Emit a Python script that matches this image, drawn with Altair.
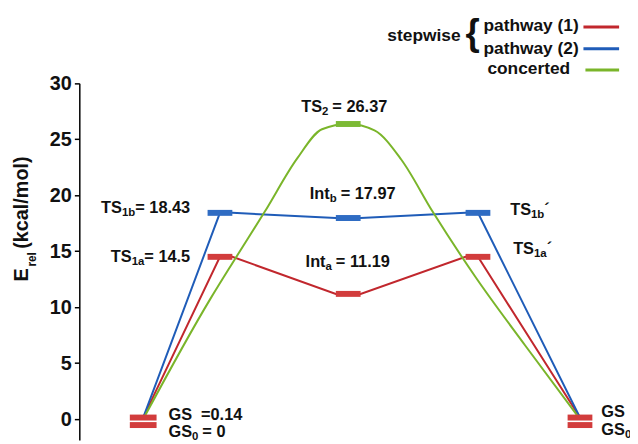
import altair as alt
import pandas as pd

# ---------------- values ----------------
stage_x = [64.5, 142.0, 271.5, 402.5, 505.5]      # reaction coordinate: GS, TS1, Int, TS1´, GS´
path1_e = [0.14, 14.5, 11.19, 14.5, 0.14]         # stepwise pathway (1)
path2_e = [0.14, 18.43, 17.97, 18.43, 0.14]       # stepwise pathway (2)
e_gs = 0.14
e_gs0 = 0.0
e_ts2 = 26.37
conc_x = [64.5, 132, 155, 187, 220, 245, 271.5, 298, 325, 357, 400, 450, 505.5]
conc_e = [0.0, 10.7, 14.0, 18.5, 23.3, 25.9, 26.37, 25.8, 23.2, 18.5, 12.7, 6.6, 0.0]
y_ticks = [0, 5, 10, 15, 20, 25, 30]
legend_labels = ["pathway (1)", "pathway (2)", "concerted"]

# ---------------- style / layout ----------------
RED_L, BLUE_L, GREEN_L = "#c1272d", "#1f5cb8", "#7ab52a"
RED_B, BLUE_B, GREEN_B = "#d23c3c", "#2f6cc3", "#7cba35"
TXT = "#111111"
FONT = "Liberation Sans"
W_PLOT, H_PLOT = 550, 360
Y_MIN, Y_MAX = -1.86, 30
PXU = H_PLOT / (Y_MAX - Y_MIN)    # pixels per kcal/mol
HW = 12.5                          # half width of level bars (x units == px)
FS, SS, SUBDY = 16.5, 11.5, 3.0    # label font, subscript font, subscript drop
LFS = 17.5                         # legend font

AW = {' ': 278, '(': 333, ')': 333, '.': 278, '/': 278, '=': 584, '´': 333, '{': 389,
      'E': 667, 'G': 778, 'I': 278, 'S': 667, 'T': 611,
      'a': 556, 'b': 611, 'c': 556, 'd': 611, 'e': 556, 'h': 611, 'i': 278, 'k': 556,
      'l': 278, 'm': 889, 'n': 611, 'o': 611, 'p': 611, 'r': 389, 's': 556, 't': 333,
      'w': 778, 'y': 556}


def tw(s, size):
    return sum(AW.get(c, 556) for c in s) * size / 1000.0


def up(px):
    """pixel shift upwards -> data units"""
    return px / PXU


def ax(px):   # absolute page x -> data x
    return px - 80


def ay(py):   # absolute page y -> data y
    return Y_MAX - (py - 82) / PXU


rows = []


def compose(pieces, x, y, align="left", size=FS):
    total = 0
    for t, k in pieces:
        if k == "gap":
            total += t
        else:
            total += tw(t, size if k == "n" else SS)
    if align == "center":
        x -= total / 2
    elif align == "right":
        x -= total
    for t, k in pieces:
        if k == "gap":
            x += t
            continue
        sz = size if k == "n" else SS
        yy = y if k == "n" else y - up(SUBDY)
        rows.append({"x": x, "y": yy, "t": t, "s": sz})
        x += tw(t, sz)


# energy labels
compose([("TS", "n"), ("2", "s"), (4.0, "gap"), ("= 26.37", "n")], stage_x[2] - 4, e_ts2 + up(12), "center")
compose([("Int", "n"), ("b", "s"), (4.0, "gap"), ("= 17.97", "n")], stage_x[2] + 4.5, path2_e[2] + up(19.5), "center")
compose([("Int", "n"), ("a", "s"), (4.0, "gap"), ("= 11.19", "n")], stage_x[2], path1_e[2] + up(27.3), "center")
compose([("TS", "n"), ("1b", "s"), ("= 18.43", "n")], stage_x[1] - 30, path2_e[1] - up(0.6), "right")
compose([("TS", "n"), ("1a", "s"), ("= 14.5", "n")], stage_x[1] - 30, path1_e[1] - up(5.5), "right")
compose([("TS", "n"), ("1b", "s"), ("´", "n")], stage_x[3] + 32.5, path2_e[3] - up(2.3))
compose([("TS", "n"), ("1a", "s"), ("´", "n")], stage_x[3] + 35.5, path1_e[3] + up(3))
compose([("GS", "n"), (9.0, "gap"), ("=0.14", "n")], stage_x[0] + 25.5, e_gs - up(2.3))
compose([("GS", "n"), ("0", "s"), (4.0, "gap"), ("= 0", "n")], stage_x[0] + 25.5, e_gs0 - up(18))
compose([("GS", "n")], stage_x[4] + 21.5, e_gs + up(1))
compose([("GS", "n"), ("0", "s")], stage_x[4] + 21.5, e_gs0 - up(16))

# legend texts
compose([("stepwise", "n")], ax(391), ay(39.5), size=LFS)
compose([("{", "n")], ax(470), ay(43.5), size=37)
compose([(legend_labels[0], "n")], ax(488), ay(29.5), size=LFS)
compose([(legend_labels[1], "n")], ax(488), ay(52), size=LFS)
compose([(legend_labels[2], "n")], ax(492), ay(73), size=LFS)
txt_df = pd.DataFrame(rows)

# rotated axis title pieces
title_df = pd.DataFrame([
    {"x": ax(28), "y": ay(282), "t": "E", "s": 20},
    {"x": ax(36), "y": ay(267), "t": "rel", "s": 12},
    {"x": ax(28), "y": ay(249), "t": "(kcal/mol)", "s": 20},
])

# ---------------- geometry built from the values ----------------
def polyline(e):
    xs = [stage_x[0], stage_x[1], stage_x[1] + HW, stage_x[2] - HW, stage_x[2] + HW,
          stage_x[3] - HW, stage_x[3], stage_x[4]]
    ys = [e[0], e[1], e[1], e[2], e[2], e[3], e[3], e[4]]
    return pd.DataFrame({"x": xs, "y": ys})


p1_df = polyline(path1_e)
p2_df = polyline(path2_e)
conc_df = pd.DataFrame({"x": conc_x, "y": conc_e})

bars = []
for i, c in [(1, RED_B), (2, RED_B), (3, RED_B)]:
    bars.append({"x": stage_x[i] - HW, "x2": stage_x[i] + HW, "y": path1_e[i], "c": c})
for i, c in [(1, BLUE_B), (2, BLUE_B), (3, BLUE_B)]:
    bars.append({"x": stage_x[i] - HW, "x2": stage_x[i] + HW, "y": path2_e[i], "c": c})
bars.append({"x": stage_x[2] - HW, "x2": stage_x[2] + HW, "y": e_ts2, "c": GREEN_B})
bars_df = pd.DataFrame(bars)
gs_up_df = pd.DataFrame({"x": [stage_x[0] - 13.5, stage_x[4] - 12.5],
                         "x2": [stage_x[0] + 13.5, stage_x[4] + 12.5], "y": [e_gs, e_gs]})
gs_lo_df = pd.DataFrame({"x": [stage_x[0] - 13.5, stage_x[4] - 12.5],
                         "x2": [stage_x[0] + 13.5, stage_x[4] + 12.5], "y": [e_gs0, e_gs0]})

leg_df = pd.DataFrame({"x": [ax(589), ax(589), ax(591)], "x2": [ax(625)] * 3,
                       "y": [ay(25), ay(47), ay(68.5)], "c": [RED_L, BLUE_L, GREEN_L]})

# ---------------- encodings ----------------
X = alt.X("x:Q", scale=alt.Scale(domain=[0, W_PLOT], nice=False, zero=False), axis=None)
Y = alt.Y("y:Q", scale=alt.Scale(domain=[Y_MIN, Y_MAX], nice=False, zero=False),
          axis=alt.Axis(values=y_ticks, title=None, grid=False, labelFont=FONT,
                        labelFontWeight="bold", labelFontSize=20, labelColor=TXT,
                        domainColor="#000000", domainWidth=1.5, tickColor="#000000",
                        tickWidth=1.5, tickSize=5, labelPadding=3))

l_red = alt.Chart(p1_df).mark_line(color=RED_L, strokeWidth=2).encode(x=X, y=Y)
l_blue = alt.Chart(p2_df).mark_line(color=BLUE_L, strokeWidth=2).encode(x=X, y=Y)
l_green = alt.Chart(conc_df).mark_line(color=GREEN_L, strokeWidth=2, interpolate="monotone").encode(x=X, y=Y)
b_lv = alt.Chart(bars_df).mark_rule(strokeWidth=6, strokeCap="butt").encode(
    x=X, x2="x2:Q", y=Y, color=alt.Color("c:N", scale=None, legend=None))
b_up = alt.Chart(gs_up_df).mark_rule(strokeWidth=6, strokeCap="butt", color=RED_B).encode(x=X, x2="x2:Q", y=Y)
b_lo = alt.Chart(gs_lo_df).mark_rule(strokeWidth=6, strokeCap="butt", color=RED_B, yOffset=6).encode(x=X, x2="x2:Q", y=Y)
leg = alt.Chart(leg_df).mark_rule(strokeWidth=3).encode(
    x=X, x2="x2:Q", y=Y, color=alt.Color("c:N", scale=None, legend=None))
texts = alt.Chart(txt_df).mark_text(font=FONT, fontWeight="bold", align="left",
                                    baseline="alphabetic", color=TXT).encode(
    x=X, y=Y, text="t:N", size=alt.Size("s:Q", scale=None, legend=None))
title = alt.Chart(title_df).mark_text(font=FONT, fontWeight="bold", align="left",
                                      baseline="alphabetic", angle=270, color=TXT).encode(
    x=X, y=Y, text="t:N", size=alt.Size("s:Q", scale=None, legend=None))

chart = alt.layer(l_red, l_blue, l_green, b_lv, b_up, b_lo, leg, texts, title).properties(
    width=W_PLOT, height=H_PLOT,
    padding={"left": 72, "top": 74, "right": 6, "bottom": 2},
    autosize=alt.AutoSizeParams(type="none"),
    background="white",
).configure_view(stroke=None)

chart.save("out.html", embed_options={"renderer": "svg", "actions": False})
